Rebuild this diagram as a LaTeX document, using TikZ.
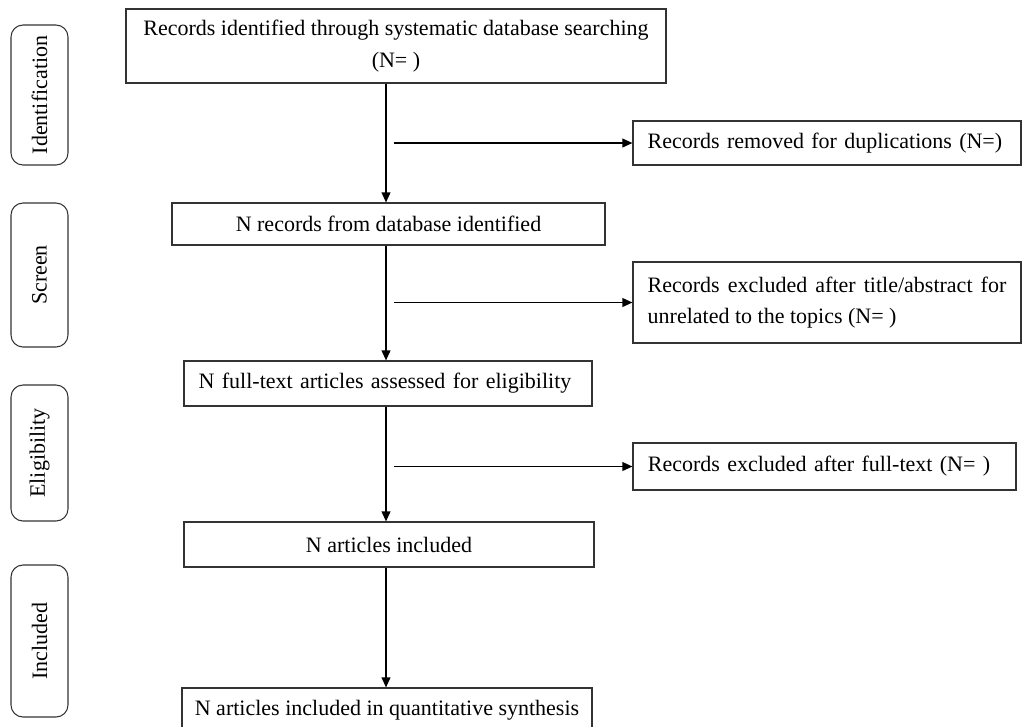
\documentclass[tikz,border=0pt]{standalone}
\usepackage{fontspec}
\setmainfont{Liberation Serif}
\usetikzlibrary{arrows.meta, positioning, calc}
\newcommand{\flowfont}{\fontsize{16.5pt}{23.5pt}\selectfont}
\hyphenpenalty=10000
\exhyphenpenalty=10000

\begin{document}
\begin{tikzpicture}[
    x=0.75pt, y=-0.75pt,
    box/.style={draw=black!80, line width=0.8pt, align=center, font=\flowfont,
                inner sep=0pt},
    leftbox/.style={box, align=left, inner xsep=11pt},
    stage/.style={draw=black!80, line width=0.8pt, rounded corners=9pt,
                  rotate=90, minimum height=42.75pt, inner sep=0pt,
                  font=\flowfont},
    arrow/.style={-{Triangle[length=7.5pt, width=6.5pt]}, line width=1.2pt},
]
    \useasboundingbox (0,0) rectangle (1023,726);
    \clip (0,0) rectangle (1023,726);

    % phase labels
    \node[stage, minimum width=105pt] (ident) at (39.5,95) {Identification};
    \node[stage, minimum width=108pt] (screen) at (39.5,275) {Screen};
    \node[stage, minimum width=102pt] (elig) at (39.5,453) {Eligibility};
    \node[stage, minimum width=114pt] (incl) at (39.5,641) {Included};

    % main column
    \node[box, minimum width=405pt, minimum height=55.5pt] (search) at (396,46)
        {Records identified through systematic database searching\\(N= )};
    \node[box, minimum width=324.75pt, minimum height=31.5pt] (records) at (388.5,224)
        {N records from database identified};
    \node[leftbox, minimum width=306pt, minimum height=33.75pt, text width=284pt]
        (fulltext) at (388,383.5) {N full-text articles assessed for eligibility};
    \node[box, minimum width=307.5pt, minimum height=33.75pt] (included) at (389,544.5)
        {N articles included};
    \node[box, minimum width=307.5pt, minimum height=33.75pt] (synth) at (387,710.5)
        {N articles included in quantitative synthesis};

    % exclusions
    \node[leftbox, minimum width=291pt, minimum height=33pt, text width=269pt]
        (dup) at (827,143) {Records removed for duplications (N=)};
    \node[leftbox, align=justify, minimum width=291pt, minimum height=60.75pt,
          text width=269pt] (titleexcl) at (827,302.5)
        {Records excluded after title/abstract for unrelated to the topics (N= )};
    \node[leftbox, minimum width=287.25pt, minimum height=35.25pt, text width=265pt]
        (textexcl) at (824.5,466.5) {Records excluded after full-text (N= )};

    \coordinate (spine) at (386,0);
    \draw[arrow] (search.south -| spine) -- (records.north -| spine);
    \draw[arrow] (records.south -| spine) -- (fulltext.north -| spine);
    \draw[arrow] (fulltext.south -| spine) -- (included.north -| spine);
    \draw[arrow] (included.south -| spine) -- (synth.north -| spine);

    \draw[arrow] ($(dup.west -| spine)+(8,0)$) -- (dup.west);
    \draw[arrow] ($(titleexcl.west -| spine)+(8,0)$) -- (titleexcl.west);
    \draw[arrow] ($(textexcl.west -| spine)+(8,0)$) -- (textexcl.west);
\end{tikzpicture}
\end{document}
